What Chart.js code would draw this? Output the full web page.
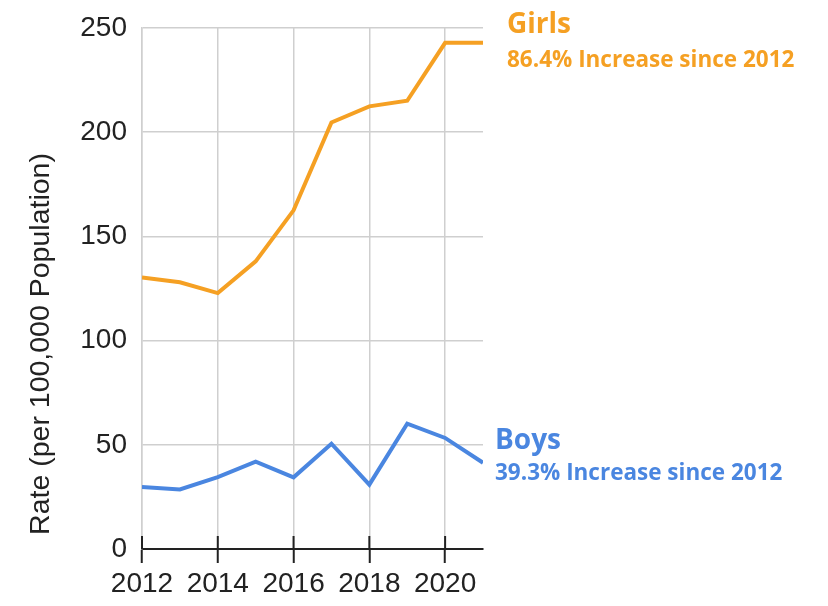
<!DOCTYPE html>
<html>
<head>
<meta charset="utf-8">
<script src="https://cdn.jsdelivr.net/npm/chart.js@4/dist/chart.umd.min.js"></script>
<style>
  html, body { margin: 0; padding: 0; background: #fff; }
  #wrap { width: 828px; height: 606px; }
</style>
</head>
<body>
<div id="wrap"><canvas id="graph" width="828" height="606"></canvas></div>
<script>
'use strict';

// data
var years = [2012, 2013, 2014, 2015, 2016, 2017, 2018, 2019, 2020, 2021];
var girls = [130.3, 128.0, 122.8, 138.0, 162.5, 204.7, 212.4, 215.1, 242.9, 242.9];
var boys = [29.7, 28.6, 34.5, 41.9, 34.4, 50.5, 30.9, 60.1, 53.3, 41.4];
var xTicks = [2012, 2014, 2016, 2018, 2020];
var yTicks = [0, 50, 100, 150, 200, 250];

var ORANGE = '#F5A023';
var BLUE = '#4A86E0';
var AXIS_FONT = 'Liberation Sans, Arial, sans-serif';
var NOTE_FONT = '"Open Sans", sans-serif';

function points(values) {
    return years.map(function (y, i) { return { x: y, y: values[i] }; });
}

// the black ticks cross the axis line, grid only draws the lower half
var crossTicks = {
    id: 'crossTicks',
    afterDatasetsDraw: function (chart) {
        var ctx = chart.ctx, x = chart.scales.x, bottom = chart.chartArea.bottom;
        ctx.save();
        ctx.strokeStyle = '#222';
        ctx.lineWidth = 2;
        x.ticks.forEach(function (t) {
            var px = x.getPixelForValue(t.value);
            ctx.beginPath();
            ctx.moveTo(px, bottom - 13);
            ctx.lineTo(px, bottom);
            ctx.stroke();
        });
        ctx.restore();
    }
};

// y title sits lower than centre in the original, draw it by hand
var yTitle = {
    id: 'yTitle',
    afterDraw: function (chart) {
        var ctx = chart.ctx;
        ctx.save();
        ctx.translate(41, 344);
        ctx.rotate(-Math.PI / 2);
        ctx.font = '28.5px ' + AXIS_FONT;
        ctx.fillStyle = '#222';
        ctx.textAlign = 'center';
        ctx.textBaseline = 'middle';
        ctx.fillText('Rate (per 100,000 Population)', 0, 0);
        ctx.restore();
    }
};

// series notes to the right of the last point
var notes = [
    { data: girls, color: ORANGE, title: 'Girls', sub: '86.4% Increase since 2012', dx: 24, dy1: -10, dy2: 24 },
    { data: boys, color: BLUE, title: 'Boys', sub: '39.3% Increase since 2012', dx: 12, dy1: -14, dy2: 17 }
];

var seriesNotes = {
    id: 'seriesNotes',
    afterDraw: function (chart) {
        var ctx = chart.ctx, y = chart.scales.y;
        var left = chart.chartArea.right;
        ctx.save();
        ctx.textAlign = 'left';
        ctx.textBaseline = 'alphabetic';
        notes.forEach(function (n) {
            var py = y.getPixelForValue(n.data[n.data.length - 1]);
            ctx.fillStyle = n.color;
            ctx.font = 'bold 28px ' + NOTE_FONT;
            ctx.fillText(n.title, left + n.dx, py + n.dy1);
            ctx.font = 'bold 22.5px ' + NOTE_FONT;
            ctx.fillText(n.sub, left + n.dx, py + n.dy2);
        });
        ctx.restore();
    }
};

new Chart('graph', {
    type: 'line',
    data: {
        datasets: [{
            label: 'Girls',
            data: points(girls),
            borderColor: ORANGE,
            borderWidth: 4,
            pointRadius: 0,
            tension: 0
        }, {
            label: 'Boys',
            data: points(boys),
            borderColor: BLUE,
            borderWidth: 4,
            pointRadius: 0,
            tension: 0
        }]
    },
    options: {
        responsive: false,
        animation: false,
        layout: { padding: { left: 0, right: 345, top: 28, bottom: 0 } },
        plugins: {
            legend: { display: false },
            tooltip: { enabled: false }
        },
        scales: {
            x: {
                type: 'linear',
                min: 2012,
                max: 2021,
                afterBuildTicks: function (scale) {
                    scale.ticks = xTicks.map(function (v) { return { value: v }; });
                },
                afterFit: function (scale) {
                    scale.height = 57;
                    scale.paddingLeft = 0;
                    scale.paddingRight = 0;
                },
                grid: {
                    color: '#cfcfcf',
                    lineWidth: 1.5,
                    drawTicks: true,
                    tickLength: 14,
                    tickColor: '#222',
                    tickWidth: 2
                },
                border: { display: true, color: '#222', width: 2 },
                ticks: {
                    padding: 4,
                    color: '#222',
                    font: { family: AXIS_FONT, size: 28 },
                    maxRotation: 0,
                    autoSkip: false,
                    callback: function (v) { return String(v); }
                }
            },
            y: {
                min: 0,
                max: 250,
                afterBuildTicks: function (scale) {
                    scale.ticks = yTicks.map(function (v) { return { value: v }; });
                },
                afterFit: function (scale) {
                    scale.width = 142;
                    scale.paddingTop = 0;
                    scale.paddingBottom = 0;
                },
                grid: { color: '#cfcfcf', lineWidth: 1.5, drawTicks: false },
                border: { display: true, color: '#cfcfcf', width: 1.5 },
                ticks: {
                    padding: 15,
                    color: '#222',
                    font: { family: AXIS_FONT, size: 28 }
                }
            }
        }
    },
    plugins: [crossTicks, yTitle, seriesNotes]
});
</script>
</body>
</html>
